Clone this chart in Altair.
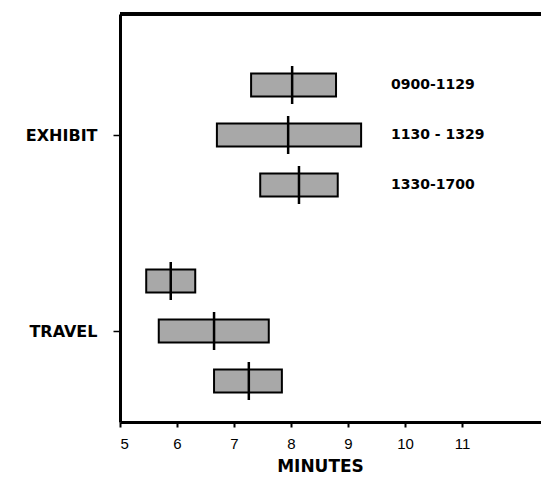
import altair as alt
import pandas as pd

groups = ["EXHIBIT", "TRAVEL"]
periods = ["0900-1129", "1130 - 1329", "1330-1700"]

# minutes: low end, high end, median per group x period
exhibit_low = [7.30, 6.70, 7.46]
exhibit_high = [8.79, 9.23, 8.82]
exhibit_median = [8.02, 7.95, 8.14]
travel_low = [5.46, 5.68, 6.65]
travel_high = [6.32, 7.61, 7.84]
travel_median = [5.89, 6.65, 7.26]

x_ticks = [5, 6, 7, 8, 9, 10, 11]

# layout (row units)
GROUP_CENTER0 = 2.42
GROUP_STEP = 3.92
HALF_BAR = 0.23
HALF_MED = 0.38
Y_MAX = 8.16

rows = []
for gi, (g, lows, highs, meds) in enumerate([
        ("EXHIBIT", exhibit_low, exhibit_high, exhibit_median),
        ("TRAVEL", travel_low, travel_high, travel_median)]):
    for pi, p in enumerate(periods):
        slot = GROUP_CENTER0 + gi * GROUP_STEP + (pi - 1)
        rows.append(dict(group=g, period=p, low=lows[pi], high=highs[pi],
                         median=meds[pi], slot=slot,
                         b0=slot - HALF_BAR, b1=slot + HALF_BAR,
                         m0=slot - HALF_MED, m1=slot + HALF_MED,
                         show=(gi == 0)))
df = pd.DataFrame(rows)

W, H = 421, 408
group_centers = [GROUP_CENTER0 + gi * GROUP_STEP for gi in range(len(groups))]
label_expr = "datum.value < %f ? '%s' : '%s'" % (
    (group_centers[0] + group_centers[1]) / 2, groups[0], groups[1])

xscale = alt.Scale(domain=[5, 5 + W / 57.0], nice=False, zero=False)
yscale = alt.Scale(domain=[0, Y_MAX], reverse=True, nice=False, zero=False)

base = alt.Chart(df)

bars = base.mark_rect(fill="#a8a8a8", stroke="black", strokeWidth=2).encode(
    x=alt.X("low:Q", scale=xscale,
            axis=alt.Axis(values=x_ticks, format="d", title="MINUTES", grid=False,
                          domainColor="black", domainWidth=3,
                          tickColor="black", tickWidth=2, tickSize=5,
                          labelFont="Liberation Sans", labelFontSize=15,
                          labelColor="black", labelPadding=9,
                          titleFont="DejaVu Sans", titleFontSize=17,
                          titleFontWeight="bold", titleColor="black",
                          titleX=200, titleY=49, titleAlign="center",
                          titleBaseline="alphabetic")),
    x2="high:Q",
    y=alt.Y("b0:Q", scale=yscale,
            axis=alt.Axis(values=group_centers, labelExpr=label_expr,
                          title=None, grid=False,
                          domainColor="black", domainWidth=3,
                          tickColor="black", tickWidth=1.5, tickSize=7,
                          labelFont="DejaVu Sans", labelFontSize=16,
                          labelFontWeight="bold", labelColor="black",
                          labelPadding=16)),
    y2="b1:Q",
)

medians = base.mark_rule(color="black", strokeWidth=2.5).encode(
    x="median:Q",
    y="m0:Q",
    y2="m1:Q",
)

labels = base.transform_filter("datum.show").mark_text(
    align="left", baseline="middle", font="DejaVu Sans", fontSize=14,
    fontWeight="bold", color="black").encode(
    x=alt.value(271),
    y="slot:Q",
    text="period:N",
)

top_line = base.mark_rule(color="black", strokeWidth=3).encode(
    x=alt.value(0), x2=alt.value(W), y=alt.value(0))

chart = alt.layer(top_line, bars, medians, labels).properties(
    width=W, height=H,
    autosize=alt.AutoSizeParams(type="none"),
    padding={"left": 112, "top": 6, "right": 0, "bottom": 55},
).configure_view(stroke=None).configure(background="white")

chart.save("out.html", embed_options={"renderer": "svg", "actions": False})
